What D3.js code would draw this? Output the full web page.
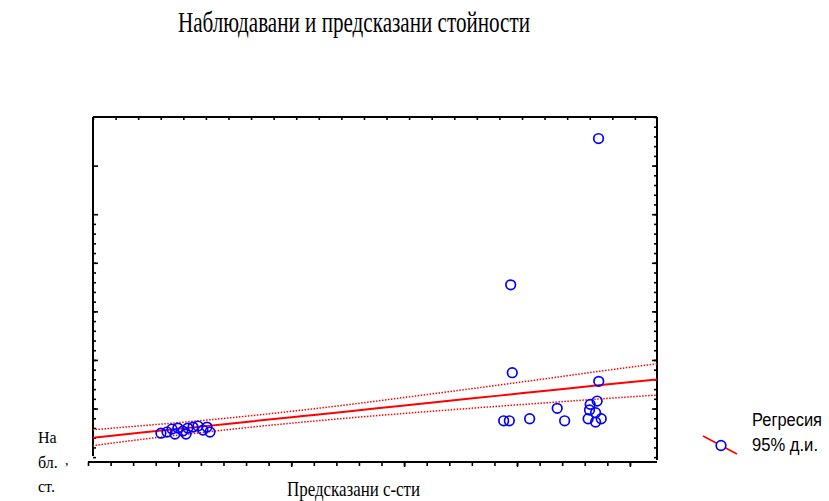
<!DOCTYPE html>
<html>
<head>
<meta charset="utf-8">
<script src="https://cdn.jsdelivr.net/npm/d3@7"></script>
<style>
  body { margin: 0; background: #fff; }
  svg { display: block; }
</style>
</head>
<body>
<div id="chart"></div>
<script>
const predicted = [18.61, 14.72, 14.79, 18.62, 18.55, 18.24, 16.78, 18.21, 18.48, 14.41, 14.66, 15.56, 17.11, 18.15, 18.73, 18.48,
  -0.77, -0.50, -0.28, -0.02, 0.20, 0.42, 0.65, 0.87, 1.09, 1.27, 1.40, -0.15, 0.34];
const observed = [32.78, 17.73, 8.69, 7.80, 5.77, 5.43, 5.02, 4.85, 4.57, 3.74, 3.74, 3.95, 3.74, 3.95, 3.95, 3.61,
  2.47, 2.58, 2.89, 2.99, 2.68, 2.99, 3.09, 3.20, 2.78, 3.09, 2.58, 2.37, 2.37];

// regression line and 95% band, sampled along x
const bandX = [-3.8, -1.3, 1.0, 3.2, 5.4, 7.6, 9.8, 12.0, 14.2, 16.4, 18.6, 21.2];
const regY = [2.00, 2.61, 3.14, 3.67, 4.20, 4.73, 5.27, 5.80, 6.33, 6.86, 7.40, 8.00];
const upperY = [2.82, 3.30, 3.76, 4.26, 4.82, 5.42, 6.08, 6.74, 7.42, 8.11, 8.82, 9.61];
const lowerY = [1.18, 1.92, 2.52, 3.08, 3.58, 4.04, 4.46, 4.86, 5.24, 5.61, 5.98, 6.39];

const xMinor = d3.range(-4, 21);
const xMajor = [0, 5, 10, 15, 20];
const yMinorLeft = d3.range(0, 25);
const yMinorRight = d3.range(0, 36);
const yMajor = [5, 10, 15, 20, 25, 30];

const title = 'Наблюдавани и предсказани стойности';
const xTitle = 'Предсказани с-сти';
const yTitle = ['На', 'бл.', 'ст.'];
const legendItems = ['Регресия', '95% д.и.'];

const W = 829, H = 501;
const frame = { left: 93, top: 117, right: 657, bottom: 462 };

const svg = d3.select('#chart').append('svg')
  .attr('width', W)
  .attr('height', H);

const x = d3.scaleLinear().domain([-4, 21.2]).range([88, 657]);
const y = d3.scaleLinear().domain([-0.5, 35]).range([462, 117]);

// title, squeezed like the original
svg.append('text')
  .attr('x', 178).attr('y', 32)
  .attr('textLength', 352).attr('lengthAdjust', 'spacingAndGlyphs')
  .style('font-family', '"Liberation Serif", serif')
  .style('font-size', '29px')
  .text(title);

// ticks
function ticks(g, axis) {
  g.call(axis.tickFormat(''));
  g.select('.domain').remove();
  g.selectAll('line').attr('stroke', '#000').attr('stroke-width', 1.6);
}

svg.append('g').attr('transform', `translate(0,${frame.bottom})`)
  .call(g => ticks(g, d3.axisBottom(x).tickValues(xMinor).tickSize(4)));
svg.append('g').attr('transform', `translate(0,${frame.bottom})`)
  .call(g => ticks(g, d3.axisBottom(x).tickValues(xMajor).tickSize(5)));

svg.append('g').attr('transform', `translate(5,${frame.top})`)
  .call(g => ticks(g, d3.axisBottom(x).tickValues(xMinor.filter(v => x(v) + 5 < frame.right - 2)).tickSize(3)));

svg.append('g').attr('transform', `translate(${frame.left},0)`)
  .call(g => ticks(g, d3.axisRight(y).tickValues(yMinorLeft).tickSize(3)));
svg.append('g').attr('transform', `translate(${frame.left},0)`)
  .call(g => ticks(g, d3.axisRight(y).tickValues(yMajor).tickSize(5)));

svg.append('g').attr('transform', `translate(${frame.right},0)`)
  .call(g => ticks(g, d3.axisLeft(y).tickValues(yMinorRight).tickSize(3)));
svg.append('g').attr('transform', `translate(${frame.right},0)`)
  .call(g => ticks(g, d3.axisLeft(y).tickValues(yMajor).tickSize(5)));

// frame lines
const frameLines = [
  [frame.left, frame.top, frame.left, 456],
  [frame.left, frame.top, frame.right, frame.top],
  [frame.right, frame.top, frame.right, 460],
  [88, frame.bottom, frame.right, frame.bottom]
];
svg.append('g').selectAll('line').data(frameLines).join('line')
  .attr('x1', d => d[0]).attr('y1', d => d[1])
  .attr('x2', d => d[2]).attr('y2', d => d[3])
  .attr('stroke', '#000').attr('stroke-width', 2);

svg.append('defs').append('clipPath').attr('id', 'plot')
  .append('rect')
  .attr('x', frame.left).attr('y', frame.top)
  .attr('width', frame.right - frame.left).attr('height', frame.bottom - frame.top);

const plot = svg.append('g').attr('clip-path', 'url(#plot)');

const line = (ys) => d3.line().x((d, i) => x(bandX[i])).y(d => y(d)).curve(d3.curveMonotoneX)(ys);

plot.append('path').attr('d', line(upperY))
  .attr('fill', 'none').attr('stroke', '#ff0000').attr('stroke-width', 1.5).attr('stroke-dasharray', '1.5,1.5');
plot.append('path').attr('d', line(lowerY))
  .attr('fill', 'none').attr('stroke', '#ff0000').attr('stroke-width', 1.5).attr('stroke-dasharray', '1.5,1.5');
plot.append('path').attr('d', line(regY))
  .attr('fill', 'none').attr('stroke', '#ff0000').attr('stroke-width', 2);

plot.selectAll('circle').data(predicted).join('circle')
  .attr('cx', d => x(d))
  .attr('cy', (d, i) => y(observed[i]))
  .attr('r', 4.8)
  .attr('fill', 'none')
  .attr('stroke', '#0000ff')
  .attr('stroke-width', 1.7);

// axis titles
svg.append('text')
  .attr('x', 287).attr('y', 496)
  .attr('textLength', 133).attr('lengthAdjust', 'spacingAndGlyphs')
  .style('font-family', '"Liberation Serif", serif')
  .style('font-size', '21px')
  .text(xTitle);

svg.append('g').selectAll('text').data(yTitle).join('text')
  .attr('x', 38)
  .attr('y', (d, i) => 443 + i * 24.5)
  .style('font-family', '"Liberation Serif", serif')
  .style('font-size', '16px')
  .text(d => d);

svg.append('text')
  .attr('x', 65).attr('y', 465)
  .style('font-family', '"Liberation Serif", serif')
  .style('font-size', '14px')
  .text(',');

// legend
svg.append('line')
  .attr('x1', 703).attr('y1', 436).attr('x2', 737).attr('y2', 454)
  .attr('stroke', '#ff0000').attr('stroke-width', 1.5);
svg.append('circle')
  .attr('cx', 721).attr('cy', 445.5).attr('r', 4.8)
  .attr('fill', '#fff').attr('stroke', '#0000ff').attr('stroke-width', 1.7);

svg.append('g').selectAll('text').data(legendItems).join('text')
  .attr('x', 752)
  .attr('y', (d, i) => 426 + i * 24.5)
  .attr('textLength', (d, i) => i === 0 ? 70 : 66)
  .attr('lengthAdjust', 'spacingAndGlyphs')
  .style('font-family', '"Liberation Sans", Arial, sans-serif')
  .style('font-size', '18px')
  .text(d => d);
</script>
</body>
</html>
